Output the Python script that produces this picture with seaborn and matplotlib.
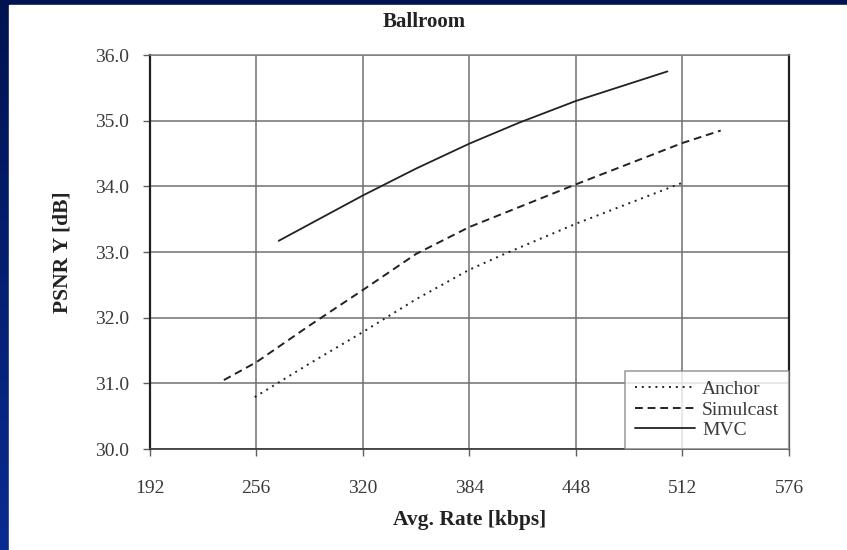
import numpy as np
import pandas as pd
import matplotlib
matplotlib.use("Agg")
import matplotlib.pyplot as plt
from matplotlib.patches import Rectangle
from matplotlib.colors import LinearSegmentedColormap
import seaborn as sns

# ---- data ----
anchor_rate = [255.1, 288, 320, 352, 384, 406, 448, 511.5]
anchor_psnr = [30.79, 31.30, 31.78, 32.28, 32.73, 32.98, 33.43, 34.05]
simul_rate = [236.6, 256, 288, 320, 352, 384, 448, 512, 535]
simul_psnr = [31.05, 31.32, 31.88, 32.42, 32.97, 33.38, 34.03, 34.66, 34.85]
mvc_rate = [269.5, 320, 352, 384, 414, 448, 503]
mvc_psnr = [33.17, 33.86, 34.27, 34.65, 34.97, 35.30, 35.75]
x_ticks = [192, 256, 320, 384, 448, 512, 576]
y_ticks = [30.0, 31.0, 32.0, 33.0, 34.0, 35.0, 36.0]

sns.set_style("white")
plt.rcParams['font.family'] = ['Liberation Serif', 'DejaVu Serif']

W, H = 847, 550
fig = plt.figure(figsize=(W / 100, H / 100), dpi=100)

# slide background: navy gradient with white panel
bg = fig.add_axes([0, 0, 1, 1], zorder=-10)
cmap = LinearSegmentedColormap.from_list("navy", ["#001250", "#0a2c90"])
grad = np.linspace(0, 1, 256).reshape(-1, 1)
bg.imshow(grad, cmap=cmap, aspect='auto', extent=[0, 1, 0, 1], origin='upper')
bg.add_patch(Rectangle((9 / W, 0), 1, (H - 5) / H, color='white', transform=bg.transAxes))
bg.set_xlim(0, 1); bg.set_ylim(0, 1)
bg.axis('off')

left, right = 149.6 / W, 789 / W
top, bottom = 1 - 55 / H, 1 - 449 / H
ax = fig.add_axes([left, bottom, right - left, top - bottom])
ax.set_facecolor('white')

df_a = pd.DataFrame({'rate': anchor_rate, 'psnr': anchor_psnr})
df_s = pd.DataFrame({'rate': simul_rate, 'psnr': simul_psnr})
df_m = pd.DataFrame({'rate': mvc_rate, 'psnr': mvc_psnr})

sns.lineplot(data=df_a, x='rate', y='psnr', ax=ax, color='#222222', lw=1.4,
             linestyle=(0, (1, 2.5)), label='Anchor', zorder=3)
sns.lineplot(data=df_s, x='rate', y='psnr', ax=ax, color='#222222', lw=1.4,
             linestyle=(0, (4, 2.5)), label='Simulcast', zorder=3)
sns.lineplot(data=df_m, x='rate', y='psnr', ax=ax, color='#222222', lw=1.3,
             linestyle='-', label='MVC', zorder=3)

ax.set_xlim(192, 576)
ax.set_ylim(30, 36)
ax.set_xticks(x_ticks)
ax.set_yticks(y_ticks)
ax.set_yticklabels([f"{v:.1f}" for v in y_ticks])
ax.grid(True, color='#707070', lw=1.1)
ax.set_axisbelow(True)

ax.spines['top'].set_color('#808080'); ax.spines['top'].set_linewidth(1.1)
ax.spines['right'].set_color('#202020'); ax.spines['right'].set_linewidth(1.6)
ax.spines['left'].set_color('#202020'); ax.spines['left'].set_linewidth(1.6)
ax.spines['bottom'].set_color('#404040'); ax.spines['bottom'].set_linewidth(1.3)

ax.tick_params(axis='both', direction='out', length=5, width=1, color='#606060',
               labelcolor='#3a3a3a', labelsize=14)
ax.tick_params(axis='x', pad=17, bottom=True)
ax.tick_params(axis='y', pad=10, left=True)

ax.set_xlabel('Avg. Rate [kbps]', fontsize=15.5, fontweight='bold', labelpad=10, color='#222222')
ax.set_ylabel('PSNR Y [dB]', fontsize=15.5, fontweight='bold', labelpad=16, color='#222222')
fig.text(424 / W, 1 - 22 / H, 'Ballroom', ha='center', va='center', fontsize=15,
         fontweight='bold', color='#222222')

leg = ax.legend(loc='lower right', bbox_to_anchor=(1.0, 0.0), fontsize=14, frameon=True,
                fancybox=False, borderaxespad=0, handlelength=3.1, handletextpad=0.35,
                labelspacing=0.15, borderpad=0.5)
leg.get_frame().set_edgecolor('#808080')
leg.get_frame().set_linewidth(1.1)
for t in leg.get_texts():
    t.set_color('#3a3a3a')

fig.savefig('out.png', dpi=100)
